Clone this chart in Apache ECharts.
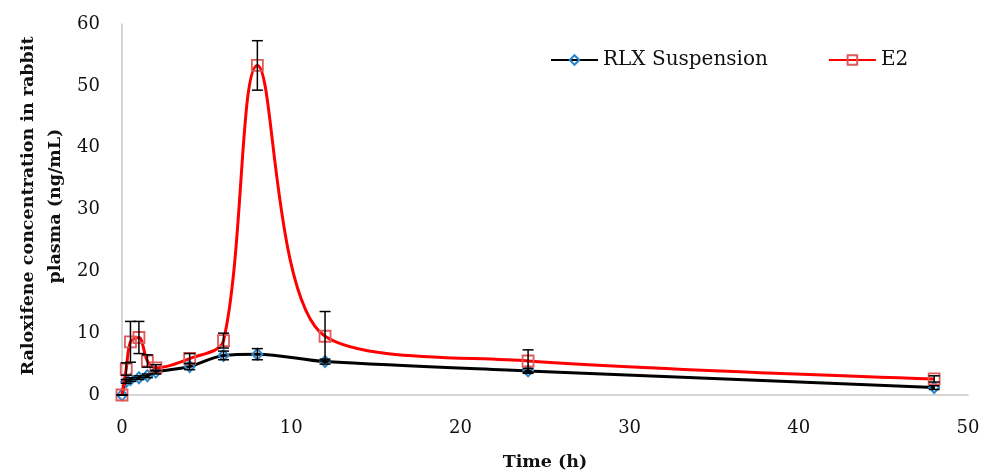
<!DOCTYPE html>
<html>
<head>
<meta charset="utf-8">
<script src="https://cdn.jsdelivr.net/npm/echarts@6/dist/echarts.min.js"></script>
<style>
html, body { margin: 0; padding: 0; background: #fff; }
#chart { width: 988px; height: 474px; }
</style>
</head>
<body>
<div id="chart"></div>
<script>
// sampling times (h)
var times = [0, 0.25, 0.5, 1, 1.5, 2, 4, 6, 8, 12, 24, 48];
// RLX suspension, mean and SD (ng/mL)
var rlxMean = [0, 2.2, 2.5, 2.8, 3.1, 3.7, 4.6, 6.4, 6.6, 5.4, 3.9, 1.2];
var rlxSd = [0, 0.3, 0.3, 0.3, 0.3, 0.3, 0.5, 0.7, 0.9, 0.4, 0.4, 0.3];
// E2 formulation, mean and SD (ng/mL)
var e2Mean = [0, 4.2, 8.6, 9.3, 5.5, 4.4, 5.9, 8.8, 53.3, 9.5, 5.5, 2.6];
var e2Sd = [0, 1.0, 3.3, 2.6, 1.0, 0.5, 0.8, 1.2, 4.0, 4.0, 1.8, 0.5];

var serif = 'DejaVu Serif';

function pairs(ys){
    return times.map(function(t, i){ return [t, ys[i]]; });
}
function errRows(ys, sd){
    return times.map(function(t, i){ return [t, ys[i] - sd[i], ys[i] + sd[i]]; });
}
function renderErr(params, api){
    var lo = api.coord([api.value(0), api.value(1)]);
    var hi = api.coord([api.value(0), api.value(2)]);
    var half = 5.5;
    var st = { stroke: '#000', lineWidth: 1.5 };
    return {
        type: 'group',
        children: [
            { type: 'line', shape: { x1: lo[0], y1: lo[1], x2: hi[0], y2: hi[1] }, style: st },
            { type: 'line', shape: { x1: lo[0] - half, y1: lo[1], x2: lo[0] + half, y2: lo[1] }, style: st },
            { type: 'line', shape: { x1: hi[0] - half, y1: hi[1], x2: hi[0] + half, y2: hi[1] }, style: st }
        ]
    };
}

var chart = echarts.init(document.getElementById('chart'));
chart.setOption({
    animation: false,
    grid: { left: 122, right: 20, top: 24, bottom: 79, outerBoundsMode: 'none' },
    legend: {
        top: 45,
        left: 545,
        itemWidth: 47,
        itemHeight: 12,
        itemGap: 60,
        data: ['RLX Suspension', 'E2'],
        textStyle: { fontFamily: serif, fontSize: 20, color: '#111' }
    },
    graphic: [{
        type: 'text',
        x: 42,
        y: 206,
        rotation: Math.PI / 2,
        style: {
            text: 'Raloxifene concentration in rabbit\nplasma (ng/mL)',
            font: 'bold 17.5px "DejaVu Serif"',
            fill: '#111',
            textAlign: 'center',
            textVerticalAlign: 'middle',
            lineHeight: 27
        }
    }],
    xAxis: {
        type: 'value',
        min: 0, max: 50, interval: 10,
        name: 'Time (h)',
        nameLocation: 'middle',
        nameGap: 58,
        nameTextStyle: { fontFamily: serif, fontWeight: 'bold', fontSize: 17.5, color: '#111' },
        axisLine: { show: true, lineStyle: { color: '#c8c8c8', width: 1.5 } },
        axisTick: { show: false },
        splitLine: { show: false },
        axisLabel: { margin: 24, fontFamily: serif, fontSize: 18, color: '#111' }
    },
    yAxis: {
        type: 'value',
        min: 0, max: 60, interval: 10,
        axisLine: { show: true, lineStyle: { color: '#c8c8c8', width: 1.5 } },
        axisTick: { show: false },
        splitLine: { show: false },
        axisLabel: { margin: 22, fontFamily: serif, fontSize: 18, color: '#111' }
    },
    series: [
        {
            name: 'RLX Suspension',
            type: 'line',
            smooth: 0.33,
            data: pairs(rlxMean),
            symbol: 'diamond',
            symbolSize: [10, 11],
            showAllSymbol: true,
            lineStyle: { color: '#000', width: 3 },
            itemStyle: { color: 'rgba(255,255,255,0)', borderColor: '#2a86cc', borderWidth: 2 },
            z: 3
        },
        {
            name: 'E2',
            type: 'line',
            smooth: 0.33,
            data: pairs(e2Mean),
            symbol: 'rect',
            symbolSize: 11,
            showAllSymbol: true,
            lineStyle: { color: '#ff0000', width: 3 },
            itemStyle: { color: 'rgba(255,255,255,0)', borderColor: '#e05a5a', borderWidth: 1.8 },
            z: 4
        },
        {
            type: 'custom',
            renderItem: renderErr,
            data: errRows(rlxMean, rlxSd),
            encode: { x: 0, y: [1, 2] },
            silent: true,
            z: 5
        },
        {
            type: 'custom',
            renderItem: renderErr,
            data: errRows(e2Mean, e2Sd),
            encode: { x: 0, y: [1, 2] },
            silent: true,
            z: 5
        }
    ]
});
</script>
</body>
</html>
